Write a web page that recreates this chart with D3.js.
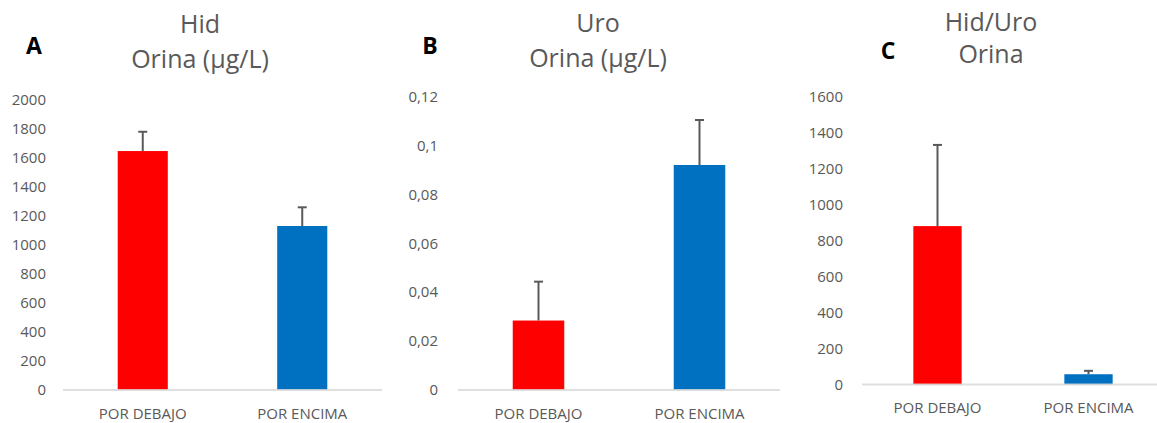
<!DOCTYPE html>
<html lang="es">
<head>
<meta charset="UTF-8">
<title>Hid / Uro Orina</title>
<script src="https://cdnjs.cloudflare.com/ajax/libs/d3/7.8.5/d3.min.js"></script>
<style>
  body { margin: 0; background: #fff; }
  text { font-family: "Open Sans", sans-serif; }
  .tick-label { fill: #595959; font-size: 15px; }
  .cat-label { fill: #595959; font-size: 15px; }
  .title { fill: #595959; font-size: 25px; }
  .panel-letter { fill: #000; font-size: 23px; font-weight: bold; }
</style>
</head>
<body>
<div id="chart"></div>
<script>
// data
var categories = ["POR DEBAJO", "POR ENCIMA"];
var colors = ["#ff0000", "#0070c0"];

var hidValues = [1648, 1131];
var hidErrors = [133, 129];
var hidTicks = [0, 200, 400, 600, 800, 1000, 1200, 1400, 1600, 1800, 2000];

var uroValues = [0.0284, 0.0920];
var uroErrors = [0.0159, 0.0184];
var uroTicks = [0, 0.02, 0.04, 0.06, 0.08, 0.1, 0.12];

var ratioValues = [880, 57];
var ratioErrors = [451, 19];
var ratioTicks = [0, 200, 400, 600, 800, 1000, 1200, 1400, 1600];

var svg = d3.select("#chart").append("svg")
    .attr("width", 1157)
    .attr("height", 423);

var comma = function (v) { return String(v).replace(".", ","); };

// layout for each panel
var panels = [
  { letter: "A", title: ["Hid", "Orina (\u00b5g/L)"], values: hidValues, errors: hidErrors, ticks: hidTicks,
    x0: 63, x1: 382, y0: 390, y1: 100, labelX: 46, titleX: 200, titleY: [33, 68], letterX: 34, letterY: 54, catY: 419, barFrac: 0.314 },
  { letter: "B", title: ["Uro", "Orina (\u00b5g/L)"], values: uroValues, errors: uroErrors, ticks: uroTicks,
    x0: 458, x1: 780, y0: 390, y1: 96.5, labelX: 438, titleX: 598, titleY: [32, 67], letterX: 430, letterY: 54, catY: 419, barFrac: 0.32 },
  { letter: "C", title: ["Hid/Uro", "Orina"], values: ratioValues, errors: ratioErrors, ticks: ratioTicks,
    x0: 862, x1: 1164, y0: 384.5, y1: 96.5, labelX: 843, titleX: 991, titleY: [31, 63], letterX: 888, letterY: 59, catY: 413, barFrac: 0.32 }
];

panels.forEach(function (p) {
  var g = svg.append("g");

  var x = d3.scaleBand()
      .domain(categories)
      .range([p.x0, p.x1])
      .paddingInner(1 - p.barFrac)
      .paddingOuter((1 - p.barFrac) / 2);

  var y = d3.scaleLinear()
      .domain([0, d3.max(p.ticks)])
      .range([p.y0, p.y1]);

  // y tick labels
  g.selectAll(".tick-label")
      .data(p.ticks)
      .enter().append("text")
      .attr("class", "tick-label")
      .attr("x", p.labelX)
      .attr("y", function (d) { return y(d); })
      .attr("dy", "0.35em")
      .attr("text-anchor", "end")
      .text(comma);

  // bars
  g.selectAll(".bar")
      .data(p.values)
      .enter().append("rect")
      .attr("class", "bar")
      .attr("x", function (d, i) { return x(categories[i]); })
      .attr("width", x.bandwidth())
      .attr("y", function (d) { return y(d); })
      .attr("height", function (d) { return y(0) - y(d); })
      .attr("fill", function (d, i) { return colors[i]; });

  // axis line
  g.append("line")
      .attr("x1", p.x0).attr("x2", p.x1)
      .attr("y1", y(0)).attr("y2", y(0))
      .attr("stroke", "#d9d9d9")
      .attr("stroke-opacity", 0.85)
      .attr("stroke-width", 2);

  // error bars (plus only)
  var err = g.selectAll(".err")
      .data(p.values)
      .enter().append("g")
      .attr("class", "err")
      .attr("stroke", "#595959")
      .attr("stroke-width", 2);

  err.append("line")
      .attr("x1", function (d, i) { return x(categories[i]) + x.bandwidth() / 2; })
      .attr("x2", function (d, i) { return x(categories[i]) + x.bandwidth() / 2; })
      .attr("y1", function (d) { return y(d); })
      .attr("y2", function (d, i) { return y(d + p.errors[i]); });

  err.append("line")
      .attr("x1", function (d, i) { return x(categories[i]) + x.bandwidth() / 2 - 4.5; })
      .attr("x2", function (d, i) { return x(categories[i]) + x.bandwidth() / 2 + 4.5; })
      .attr("y1", function (d, i) { return y(d + p.errors[i]); })
      .attr("y2", function (d, i) { return y(d + p.errors[i]); });

  // category labels
  g.selectAll(".cat-label")
      .data(categories)
      .enter().append("text")
      .attr("class", "cat-label")
      .attr("x", function (d) { return x(d) + x.bandwidth() / 2; })
      .attr("y", p.catY)
      .attr("text-anchor", "middle")
      .text(function (d) { return d; });

  // titles
  g.selectAll(".title")
      .data(p.title)
      .enter().append("text")
      .attr("class", "title")
      .attr("x", p.titleX)
      .attr("y", function (d, i) { return p.titleY[i]; })
      .attr("text-anchor", "middle")
      .text(function (d) { return d; });

  g.append("text")
      .attr("class", "panel-letter")
      .attr("x", p.letterX)
      .attr("y", p.letterY)
      .attr("text-anchor", "middle")
      .text(p.letter);
});
</script>
</body>
</html>
